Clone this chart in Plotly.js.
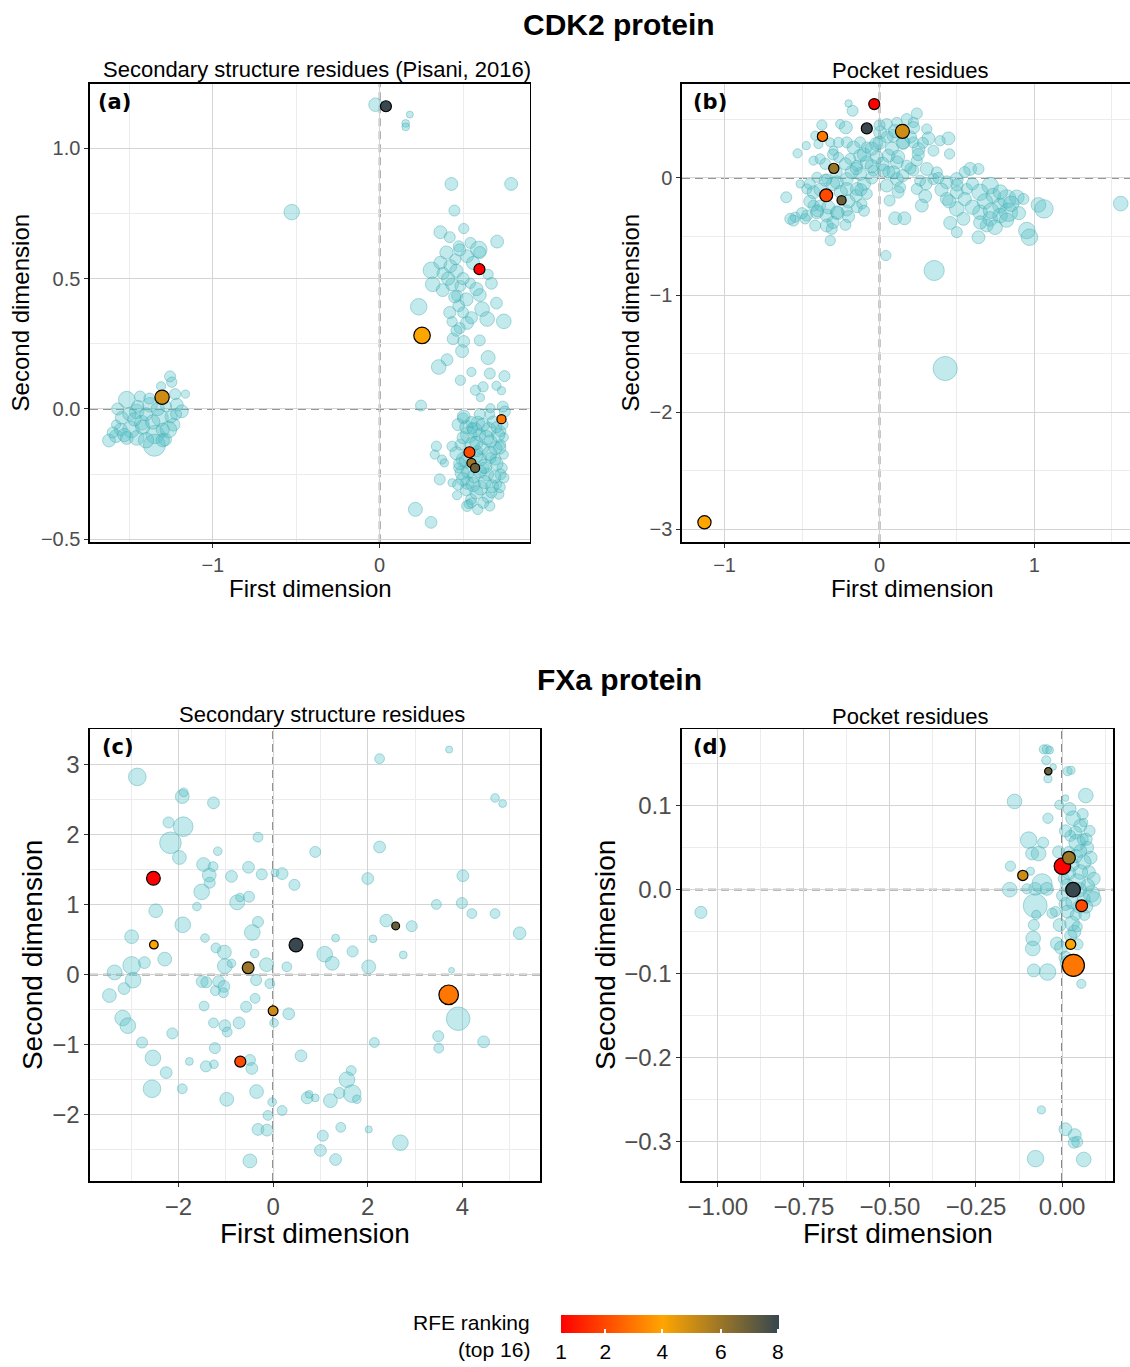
<!DOCTYPE html>
<html><head><meta charset="utf-8">
<script src="https://cdn.plot.ly/plotly-3.0.1.min.js"></script>
<style>html,body{margin:0;padding:0;overflow:hidden;background:#fff;width:1130px;height:1367px}#chart{position:absolute;left:0;top:0;width:1130px;height:1367px}</style>
</head><body><div id="chart"></div>
<script>
// ---------- DATA ----------
// Panel (a) CDK2 secondary structure residues: other residues
const aX = [0.43,0.788,0.448,0.364,0.42,0.504,0.704,0.474,0.544,0.594,0.31,0.364,0.424,0.454,0.524,0.65,0.318,0.378,0.434,0.484,0.544,0.67,0.464,0.60,0.70,0.234,0.474,0.614,0.644,0.744,0.524,0.434,0.48,0.44,0.60,0.504,0.494,0.65,0.404,0.354,0.66,0.748,0.55,0.484,0.574,0.62,0.70,0.73,0.604,0.248,0.5,0.664,0.738,0.75,
0.504,0.588,0.654,0.534,0.598,0.664,0.724,0.724,0.744,0.484,0.554,0.614,0.694,0.34,0.434,0.33,0.374,0.388,0.504,0.604,0.694,0.744,0.734,0.724,0.744,0.494,0.564,0.644,0.524,0.604,0.674,0.36,0.464,0.548,0.648,0.714,0.524,0.588,0.66,0.214,0.308,0.704,0.434,0.554,0.624,0.474,0.664,0.584,0.534,
0.47,0.52,0.57,0.62,0.68,0.71,0.64,0.58,0.5,0.46,0.52,0.58,0.66,0.72,0.7,0.63,0.6,0.53,0.48,0.5,0.56,0.63,0.69,0.72,0.58,0.52,0.62,0.55,0.67,0.47,0.7,0.6,0.55,0.66,0.74,
0.4,0.46,0.5,0.56,0.38,0.45,0.52,0.42,0.55,0.58,0.48,0.41,0.6,0.5,0.46,
-0.025,0.181,0.156,0.156,-0.527,
-1.256,-1.246,-1.31,-1.164,-1.516,-1.436,-1.226,-1.216,-1.186,-1.376,-1.546,-1.456,-1.316,-1.236,-1.551,-1.49,-1.426,-1.346,-1.35,-1.622,-1.58,-1.516,-1.286,-1.456,-1.266,-1.58,-1.40,-1.28,
-1.5,-1.42,-1.36,-1.3,-1.4,-1.47,-1.33,-1.25,-1.6,-1.53,-1.38,-1.3,-1.22,-1.45,-1.57];
const aY = [0.863,0.863,0.761,0.678,0.659,0.692,0.642,0.624,0.637,0.612,0.532,0.561,0.548,0.574,0.586,0.516,0.478,0.456,0.478,0.472,0.482,0.482,0.434,0.437,0.406,0.392,0.396,0.383,0.345,0.336,0.33,0.335,0.31,0.269,0.263,0.259,0.222,0.197,0.189,0.161,0.136,0.126,0.142,0.11,0.072,0.085,0.089,0.07,0.044,0.013,-0.036,0.003,0.009,-0.01,
-0.029,-0.055,-0.08,-0.099,-0.099,-0.124,-0.086,-0.137,-0.109,-0.137,-0.137,-0.15,-0.15,-0.143,-0.143,-0.175,-0.194,-0.207,-0.194,-0.194,-0.194,-0.175,-0.226,-0.251,-0.264,-0.245,-0.258,-0.251,-0.283,-0.302,-0.296,-0.27,-0.331,-0.346,-0.34,-0.327,-0.372,-0.385,-0.372,-0.385,-0.435,-0.289,-0.283,-0.074,-0.226,-0.226,-0.188,-0.162,-0.365,
-0.06,-0.07,-0.08,-0.06,-0.05,-0.1,-0.11,-0.13,-0.11,-0.17,-0.2,-0.18,-0.17,-0.15,-0.21,-0.22,-0.24,-0.24,-0.21,-0.27,-0.29,-0.28,-0.26,-0.3,-0.32,-0.31,-0.36,-0.36,-0.32,-0.29,-0.07,-0.02,-0.05,-0.02,-0.06,
0.6,0.53,0.5,0.56,0.52,0.43,0.42,0.37,0.35,0.46,0.61,0.5,0.6,0.37,0.3,
1.167,1.129,1.095,1.082,0.755,
0.125,0.103,0.087,0.057,0.036,0.048,0.057,0.016,-0.009,0.016,-0.034,-0.009,-0.034,-0.06,-0.079,-0.079,-0.053,-0.098,-0.139,-0.121,-0.104,-0.111,-0.117,-0.111,-0.079,-0.06,-0.02,0.01,
-0.02,-0.07,-0.05,-0.08,-0.12,-0.04,0.0,-0.03,-0.09,-0.1,0.04,-0.12,-0.02,0.01,0.0];
const aW = [11.7,11.7,10,11.7,10,9.3,11.7,10,10,15,15,11.7,11.7,10,11.7,9.3,13.3,11.7,11.7,10,9.3,10.7,10,11.7,10.7,15,10.7,13.3,13.3,13.3,11.7,9.3,10,10.7,10,10.7,11.7,12.7,10.7,13.3,10,10,8.3,9.3,9.3,9.3,8.3,7.3,7.3,10,10,8.3,10,10,
11.7,12.7,13.3,15,11.7,11.7,10,9.3,8.3,10,13.3,11.7,11.7,9.3,9.3,8.3,8.3,7.3,13.3,11.7,10,8.3,9.3,10,9.3,12.7,11.7,11.7,11.7,13.3,11.7,10,8.3,10,10,9.3,10,9.3,9.3,12.7,10.7,8.3,7.3,10,10,9.3,10,10,8.3,
11,12,13,12,11,12,13,12,11,12,13,12,13,11,12,13,12,12,11,12,13,12,11,10,12,11,10,9,10,10,10,10,10,9,9,
12,12,11,12,11,11,12,11,11,12,11,12,11,10,10,
12.3,6.3,7,7,14,
10,9.3,8.3,7.3,15,10,10,11.7,11.7,13.3,11.7,13.3,15,11.7,11.7,15,13.3,16.7,20,11.7,11.7,11.7,11.7,13.3,15,8.3,11.7,10,
12,13,13,12,14,12,12,11,10,12,10,12,10,11,11];
// Panel (a) top-ranked residues
const aHX = [0.0375,0.598,0.254,-1.304,0.73,0.538,0.55,0.572];
const aHY = [1.161,0.536,0.282,0.045,-0.039,-0.166,-0.207,-0.226];
const aHW = [10,10,15,13,8.3,10,8.3,8.3];
const aHRank = [8,1,4,5,3,2,6,7];

// Panel (b) CDK2 pocket residues
const bX = [-0.2,-0.174,-0.372,-0.254,-0.217,0.241,0.305,0.316,0.176,0.219,0.047,0.112,0.004,-0.022,-0.125,-0.168,-0.211,-0.265,-0.318,-0.415,-0.473,-0.529,-0.383,-0.426,0.445,0.391,0.252,0.348,0.452,0.585,0.639,-0.189,-0.125,-0.082,-0.017,0.058,0.112,0.176,0.241,0.305,0.37,0.499,0.434,0.348,0.262,0.112,0.026,-0.039,-0.125,-0.211,-0.275,-0.34,-0.404,-0.469,-0.512,-0.426,-0.211,-0.146,-0.082,0.047,0.133,0.241,-0.602,-0.544,-0.555,-0.469,-0.404,-0.34,-0.275,-0.211,-0.146,-0.114,-0.34,-0.318,-0.415,-0.426,0.065,0.101,0.161,0.295,0.273,0.434,0.499,0.563,0.649,0.714,0.735,0.778,0.822,0.886,0.929,0.832,0.778,0.714,0.649,0.692,0.746,0.499,0.542,0.456,0.499,0.639,1.026,1.062,0.951,0.968,1.557,0.353,0.041,0.424,-0.576,-0.48,-0.383,-0.308,-0.394,-0.265,-0.297,0.09,0.155,0.219,-0.082,-0.146,0.219,0.09,
-0.45,-0.38,-0.3,-0.25,-0.2,-0.15,-0.1,-0.05,-0.18,-0.28,-0.35,-0.45,-0.4,-0.33,-0.27,-0.3,-0.2,-0.12,-0.15,-0.22,-0.3,-0.35,-0.1,-0.05,0.0,0.05,0.1,0.15,0.2,0.08,0.12,0.02,0.06,0.15,0.2,0.25,0.28,0.22,0.0,-0.05,0.3,0.4,0.45,0.55,0.6,0.68,0.72,0.78,0.85,0.9,0.82,0.65,0.6,0.5,0.38,0.55,-0.5,-0.22,-0.1,0.12];
const bY = [0.636,0.574,0.452,0.46,0.432,0.551,0.418,0.338,0.503,0.474,0.46,0.474,0.389,0.29,0.304,0.261,0.304,0.304,0.304,0.361,0.276,0.21,0.162,0.148,0.338,0.318,0.247,0.233,0.205,0.077,0.077,0.162,0.19,0.134,0.176,0.19,0.134,0.105,0.148,0.077,0.048,-0.009,-0.037,-0.009,-0.023,-0.009,0.063,0.063,0.034,-0.009,-0.037,-0.009,0.006,-0.094,-0.051,-0.122,-0.094,-0.094,-0.136,-0.065,-0.08,-0.094,-0.165,-0.335,-0.364,-0.321,-0.293,-0.321,-0.293,-0.278,-0.25,-0.222,-0.406,-0.534,-0.406,-0.236,-0.193,-0.344,-0.344,-0.156,-0.236,-0.179,-0.122,-0.094,-0.122,-0.065,-0.151,-0.236,-0.179,-0.165,-0.179,-0.293,-0.321,-0.349,-0.293,-0.406,-0.42,-0.264,-0.349,-0.384,-0.463,-0.506,-0.23,-0.264,-0.449,-0.506,-0.219,-0.79,-0.662,-1.627,-0.349,-0.349,-0.236,-0.435,0.29,0.176,0.233,0.361,0.304,0.304,0.261,0.105,0.063,0.048,
-0.2,-0.1,-0.05,-0.12,-0.2,-0.15,-0.05,0.0,0.05,0.05,-0.02,-0.05,-0.28,-0.25,-0.3,-0.38,-0.33,-0.1,0.08,0.12,0.2,0.12,0.2,0.25,0.3,0.35,0.4,0.3,0.35,0.25,0.18,0.12,0.05,0.02,0.08,0.2,0.3,0.43,0.45,0.1,-0.05,-0.1,-0.2,-0.18,-0.25,-0.2,-0.28,-0.12,-0.22,-0.3,-0.36,-0.38,-0.05,-0.06,0.0,0.05,-0.3,-0.4,-0.28,-0.12];
const bW = [6.7,10,9.3,8.3,11.7,10,9.3,11.7,10,9.3,10,9.3,11.7,11.7,10,11.7,10,9.3,8.3,8.3,7.3,8.3,9.3,8.3,11.7,9.3,11.7,10,9.3,11.7,10,10,11.7,11.7,11.7,11.7,11.7,10,10,11.7,10,11.7,11.7,10,10,11.7,11.7,10,11.7,11.7,11.7,9.3,9.3,9.3,7.3,11.7,11.7,11.7,10,11.7,10,10,10,9.3,10,10,11.7,11.7,11.7,10,10,9.3,11.7,9.3,10,10,10,11.7,11.7,11.7,11.7,11.7,11.7,10,15,15,13.3,13.3,16.7,13.3,10,16.7,13.3,13.3,13.3,11.7,13.3,13.3,11.7,11.7,10,11.7,13.3,16.7,15,15,13.3,18.3,9.3,21.9,10,9.3,10,10,8.3,9.3,8.3,11.7,11.7,10,10,10,10,11.7,
11,12,12,12,12,11,12,11,12,11,11,10,11,12,12,11,11,11,11,11,10,10,12,12,12,11,12,12,11,12,12,12,11,11,10,11,10,11,10,12,11,12,12,12,13,14,14,13,14,12,13,12,11,11,10,10,10,10,10,11];
const bHX = [-0.034,-0.082,0.148,-0.368,-0.295,-0.344,-0.245,-1.13];
const bHY = [0.631,0.423,0.398,0.355,0.082,-0.148,-0.19,-2.94];
const bHW = [10,10,12.7,9.3,9.3,11.7,8.3,12];
const bHRank = [1,8,5,3,6,2,7,4];

// Panel (c) FXa secondary structure residues
const cX = [-2.87,-1.92,-1.89,-1.26,2.25,3.72,4.69,4.85,-2.21,-1.90,-2.17,-1.98,-0.32,-1.17,0.89,2.25,-1.47,-1.27,-1.35,-1.34,-1.51,-0.88,-0.52,-0.24,0.04,0.19,0.45,2.0,4.01,3.45,3.99,4.2,4.69,5.21,2.39,2.93,2.11,2.75,3.77,1.68,1.32,1.09,1.25,2.02,0.29,-0.14,-0.76,-0.70,-0.51,-1.61,-2.48,-1.91,-0.32,-0.44,-2.99,-1.44,-1.21,-1.03,-0.39,-2.29,-2.72,-2.99,-3.35,-2.96,-3.46,-3.15,-3.18,-3.07,-2.77,-1.02,-0.88,-1.50,-1.41,-1.15,-1.04,-1.22,-1.05,-0.36,-0.07,-0.38,-1.46,-0.57,0.33,-1.26,-1.02,-0.97,-0.72,0.02,-2.13,-1.23,2.14,3.49,4.45,3.50,3.91,-2.54,-1.77,-1.25,-1.42,-0.49,-0.45,0.59,-2.26,-2.56,-1.92,1.65,1.56,1.67,1.40,1.77,-0.35,-0.98,0.72,0.76,0.89,1.21,-0.02,0.19,-0.11,-0.32,-0.13,1.43,2.02,1.05,2.69,1.00,1.32,-0.49];
const cY = [2.82,2.54,2.60,2.45,3.08,3.21,2.52,2.44,2.17,2.11,1.88,1.67,1.96,1.76,1.75,1.82,1.57,1.54,1.42,1.31,1.18,1.40,1.53,1.43,1.45,1.44,1.28,1.37,1.41,1.00,1.02,0.87,0.87,0.59,0.77,0.69,0.51,0.28,0.06,0.33,0.52,0.29,0.16,0.11,0.11,0.14,1.03,1.10,1.11,0.97,0.91,0.71,0.75,0.60,0.54,0.52,0.38,0.32,0.30,0.22,0.17,0.13,0.03,-0.08,-0.30,-0.20,-0.62,-0.73,-0.97,0.12,0.16,-0.10,-0.11,-0.10,-0.17,-0.23,-0.26,-0.08,-0.13,-0.34,-0.45,-0.46,-0.56,-0.69,-0.73,-0.82,-0.69,-0.69,-0.84,-1.05,-0.97,-0.88,-0.96,-1.05,-0.63,-1.19,-1.24,-1.28,-1.31,-1.22,-1.34,-1.16,-1.40,-1.63,-1.63,-1.37,-1.50,-1.70,-1.69,-1.78,-1.67,-1.78,-1.76,-1.71,-1.76,-1.80,-1.82,-1.94,-2.01,-2.21,-2.22,-2.18,-2.21,-2.30,-2.40,-2.51,-2.64,-2.66];
const cW = [16,12.5,8,10.7,8.9,6.4,7.8,7.1,10,17.8,19.6,12.5,8.9,7.8,10,10.7,12.5,8.9,12.5,10,14.2,10.7,10.7,10,7.1,10.7,10,10.7,10.7,8.9,10,8.9,8.9,11.4,11.4,10,7.1,7.1,5.3,10,7.1,14.2,12.5,12.5,8.9,12.5,13.5,7.8,10,7.8,12.5,14.2,10,14.2,12.5,7.8,8.9,12.5,7.8,12.5,10.7,16,13.5,14.2,12.5,10.7,14.2,14.2,10,13.5,7.8,10.7,10,10.7,10.7,8.9,8.9,10,8.9,8.9,8.9,10,10.7,8.9,10.7,8.9,10.7,7.8,10,10,8.9,10,10.7,8.9,21.4,14.2,7.1,7.8,10,10,10.7,10.7,10.7,16,8.9,8.9,14.2,16,10,7.8,12.5,12.5,10.7,7.1,7.1,12.5,7.8,8.9,8.9,10.7,10.7,8.9,6.4,10,14.2,10.7,10.7,12.5];
const cHX = [-2.53,0.483,-0.528,2.59,-2.52,0.0,-0.694,3.71];
const cHY = [1.374,0.421,0.096,0.694,0.426,-0.517,-1.242,-0.289];
const cHW = [12.5,12.5,10.7,7.1,7.8,8.9,10,17.8];
const cHRank = [1,8,6,7,4,5,2,3];

// Panel (d) FXa pocket residues
const dX = [-0.053,-0.044,-0.036,-0.046,-0.041,-0.026,0.016,0.026,0.069,-0.138,0.01,-0.008,-0.041,0.022,0.032,0.053,0.063,0.039,0.024,-0.097,-0.055,-0.087,-0.068,0.044,0.073,0.053,0.083,0.063,0.078,0.053,0.044,0.092,0.085,0.092,0.063,-0.15,-0.092,-0.152,-0.102,-0.078,-0.058,-0.044,-0.078,0.005,0.0,0.01,0.016,-0.019,-0.029,-0.075,-0.082,-0.007,0.029,0.036,0.044,-0.084,-0.085,-0.015,-0.003,0.01,0.016,0.05,-0.082,-0.042,0.056,-0.06,0.01,0.037,0.044,0.034,-0.077,0.063,-1.049,0.03,0.06,0.075,0.02,0.05,0.04,0.065,0.03,
0.01,0.04,0.07,0.02,0.05,0.07,0.025,0.045,0.06,-0.01,0.08,0.015];
const dY = [0.167,0.167,0.166,0.154,0.132,0.146,0.141,0.142,0.112,0.105,0.109,0.101,0.085,0.096,0.085,0.076,0.08,0.068,0.064,0.059,0.056,0.043,0.043,0.056,0.05,0.046,0.038,0.033,0.021,0.021,0.009,0.013,-0.005,-0.011,-0.011,0.028,0.022,0.0,0.001,0.001,0.007,0.001,-0.019,0.013,-0.007,-0.017,-0.026,-0.026,-0.028,-0.03,-0.042,-0.042,-0.04,-0.05,-0.044,-0.058,-0.07,-0.064,-0.069,-0.081,-0.087,-0.088,-0.096,-0.098,-0.112,-0.262,-0.285,-0.292,-0.3,-0.301,-0.32,-0.321,-0.027,0.03,0.06,0.005,0.045,-0.02,-0.03,-0.03,-0.015,
0.07,0.04,0.06,0.02,0.0,-0.02,-0.055,-0.065,0.09,0.045,0.07,0.005];
const dW = [8.3,8.3,7,8.3,7.3,6,8.3,7.3,13.3,13.3,6,8.3,9.3,11.7,13.3,11.7,7.3,11.7,10,15,10,11.7,13.3,15,11.7,11.7,11.7,13.3,11.7,13.3,15,11.7,15,13.3,11.7,9.3,7.3,13.3,9.3,11.7,18.3,11.7,21.7,10,10,11.7,11.7,9.3,9.3,8.3,10,11.7,13.3,11.7,9.3,13.3,13.3,11.7,11.7,11.7,13.3,8.3,11.7,15,8.3,7.3,11.7,11.7,10,10,15,13.3,11,12,10,12,10,12,10,10,12,
11,12,11,12,13,12,11,10,10,11,10,12];
const dHX = [0.001,0.032,0.02,-0.04,-0.114,0.057,0.025,0.033];
const dHY = [0.028,0.0,0.038,0.141,0.017,-0.019,-0.065,-0.09];
const dHW = [15,13.3,11.7,6.7,9.3,10.7,9.3,20];
const dHRank = [1,8,6,7,5,2,4,3];

// Colour bar: RFE ranking ticks and their place along the bar
const rankTicks = [1,2,4,6,8];
const rankTickText = ['1','2','4','6','8'];
const rankBarPos = [0,0.203,0.465,0.733,0.995];

// ---------- BUILD ----------
function rankToPos(r){
  for(let i=0;i<rankTicks.length-1;i++){
    if(r<=rankTicks[i+1]){
      const f=(r-rankTicks[i])/(rankTicks[i+1]-rankTicks[i]);
      return rankBarPos[i]+f*(rankBarPos[i+1]-rankBarPos[i]);
    }
  }
  return rankBarPos[rankBarPos.length-1];
}
const W=1130,H=1367;
const SIZE_SCALE=1.1;
const FONT='Liberation Sans, Arial, Helvetica, sans-serif';
const tealFill='rgba(90,196,201,0.52)', tealLine='rgba(58,166,172,0.62)';
function tealTrace(x,y,w,xa,ya){
  return {type:'scatter',mode:'markers',x:x,y:y,xaxis:xa,yaxis:ya,hoverinfo:'skip',showlegend:false,
    marker:{size:w.map(v=>v*SIZE_SCALE),sizemode:'diameter',color:tealFill,line:{color:tealLine,width:1}}};
}
function topTrace(x,y,w,rk,xa,ya){
  return {type:'scatter',mode:'markers',x:x,y:y,xaxis:xa,yaxis:ya,showlegend:false,
    marker:{size:w.map(v=>v*SIZE_SCALE),color:rk.map(rankToPos),coloraxis:'coloraxis',line:{color:'#000',width:1.2},opacity:1}};
}
const data=[
  tealTrace(aX,aY,aW,'x','y'), topTrace(aHX,aHY,aHW,aHRank,'x','y'),
  tealTrace(bX,bY,bW,'x2','y2'), topTrace(bHX,bHY,bHW,bHRank,'x2','y2'),
  tealTrace(cX,cY,cW,'x3','y3'), topTrace(cHX,cHY,cHW,cHRank,'x3','y3'),
  tealTrace(dX,dY,dW,'x4','y4'), topTrace(dHX,dHY,dHW,dHRank,'x4','y4')
];
function px(x){return x/W;} function py(y){return (H-y)/H;}
function ax(domain,range,dtick,minor,fmt,fs,anchor,mirror){
  return {domain:domain,range:range,anchor:anchor,dtick:dtick,tick0:0,tickformat:fmt,
    showgrid:true,gridcolor:'#D4D4D4',gridwidth:1,
    minor:{dtick:minor,tick0:0,showgrid:true,gridcolor:'#ECECEC',gridwidth:1,ticks:''},
    zeroline:false,showline:true,linecolor:'#000',linewidth:1.6,mirror:mirror===undefined?true:mirror,
    ticks:'outside',ticklen:4,tickwidth:1,tickcolor:'#333',
    tickfont:{family:FONT,size:fs,color:'#4D4D4D'},fixedrange:true};
}
const yTop=[py(545),py(84)], yBot=[py(1187),py(733)];
const layout={
  width:W,height:H,margin:{l:0,r:0,t:0,b:0},paper_bgcolor:'#fff',plot_bgcolor:'#fff',
  xaxis: ax([px(90),px(529.5)],[-1.736,0.898],1,0.5,'',20,'y'),
  yaxis: ax(yTop,[-0.511,1.248],0.5,0.25,'.1f',20,'x'),
  xaxis2:ax([px(682),1],[-1.275,1.617],1,0.5,'',20,'y2'),
  yaxis2:ax(yTop,[-3.11,0.806],1,0.5,'',20,'x2',false),
  xaxis3:ax([px(90),px(540)],[-3.87,5.64],2,1,'',24,'y3'),
  yaxis3:ax(yBot,[-2.945,3.50],1,0.5,'',24,'x3'),
  xaxis4:ax([px(682),px(1113)],[-1.104,0.148],0.25,0.125,'.2f',24,'y4'),
  yaxis4:ax(yBot,[-0.3465,0.1909],0.1,0.05,'.1f',24,'x4'),
  coloraxis:{cmin:0,cmax:1,colorscale:[[0,'#FF0000'],[0.465,'#FFA500'],[1,'#36474F']],
    colorbar:{orientation:'h',x:px(670),xanchor:'center',y:py(1322),yanchor:'top',
      lenmode:'pixels',len:218,thickness:18,xpad:0,ypad:0,outlinewidth:0,
      tickvals:rankBarPos,ticktext:rankTickText,ticks:'inside',ticklen:4,tickwidth:2,tickcolor:'#fff',
      tickfont:{family:FONT,size:21,color:'#000'}}},
  shapes:[],annotations:[]
};
// dashed zero lines
[['x','y'],['x2','y2'],['x3','y3'],['x4','y4']].forEach(function(p){
  layout.shapes.push({type:'line',layer:'below',xref:p[0],yref:p[1]+' domain',x0:0,x1:0,y0:0,y1:1,line:{color:'#747474',width:1.8,dash:'8px,5px'}});
  layout.shapes.push({type:'line',layer:'below',xref:p[0]+' domain',yref:p[1],x0:0,x1:1,y0:0,y1:0,line:{color:'#747474',width:1.8,dash:'8px,5px'}});
});
function ann(text,x,y,size,opts){
  const a=Object.assign({text:text,x:px(x),y:py(y),xref:'paper',yref:'paper',showarrow:false,
    xanchor:'center',yanchor:'middle',font:{family:FONT,size:size,color:'#000'}},opts||{});
  layout.annotations.push(a);
}
ann('<b>CDK2 protein</b>',619,25,30);
ann('<b>FXa protein</b>',619,683,30);
ann('Secondary structure residues (Pisani, 2016)',317,70,22);
ann('Pocket residues',910,71,22);
ann('Secondary structure residues',322,718,22);
ann('Pocket residues',910,720,22);
ann('First dimension',310,592,24);
ann('First dimension',912,592,24);
ann('First dimension',315,1240,28);
ann('First dimension',898,1240,28);
ann('Second dimension',20,315,24,{textangle:-90});
ann('Second dimension',630,315,24,{textangle:-90});
ann('Second dimension',32,960,28,{textangle:-90});
ann('Second dimension',605,960,28,{textangle:-90});
const lab={family:'DejaVu Sans, sans-serif',size:21,color:'#000'};
ann('<b>(a)</b>',96,103,21,{xanchor:'left',font:lab});
ann('<b>(b)</b>',691,103,21,{xanchor:'left',font:lab});
ann('<b>(c)</b>',100,751,21,{xanchor:'left',font:lab});
ann('<b>(d)</b>',691,751,21,{xanchor:'left',font:lab});
ann('RFE ranking',532,1329,21,{xanchor:'right'});
ann('(top 16)',532,1356,21,{xanchor:'right'});
Plotly.newPlot('chart',data,layout,{displayModeBar:false,staticPlot:true});
</script></body></html>
